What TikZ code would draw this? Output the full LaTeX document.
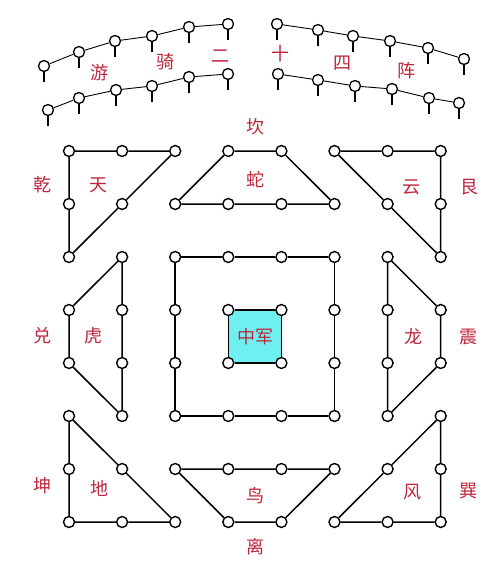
\documentclass[tikz,border=0pt]{standalone}
\usepackage{fontspec}
\newfontfamily\cjk{Noto Sans CJK SC}
\definecolor{labred}{RGB}{190,36,58}
\definecolor{cyanfill}{RGB}{110,240,240}
\begin{document}
\begin{tikzpicture}[x=1pt,y=-1pt,
  dot/.style={circle,draw,fill=white,line width=1.4pt,inner sep=0pt,minimum size=11pt},
  pin/.style={circle,draw,fill=white,line width=1.3pt,inner sep=0pt,minimum size=11pt},
  edge/.style={line width=1.5pt},
  pinline/.style={line width=0.9pt},
  tail/.style={line width=1.4pt},
  lab/.style={text=labred,font=\cjk\fontsize{18}{18}\selectfont,inner sep=0pt}]
\useasboundingbox (0,0) rectangle (500,573);
% central square fill
\fill[cyanfill] (228.3,310) rectangle (281.4,363);
% grid nodes
\foreach \n/\c/\r in {11/1/1,21/2/1,31/3/1,12/1/2,22/2/2,13/1/3,
  41/4/1,51/5/1,32/3/2,42/4/2,52/5/2,62/6/2,
  61/6/1,71/7/1,81/8/1,72/7/2,82/8/2,83/8/3,
  23/2/3,24/2/4,25/2/5,26/2/6,14/1/4,15/1/5,
  33/3/3,43/4/3,53/5/3,63/6/3,34/3/4,64/6/4,35/3/5,65/6/5,36/3/6,46/4/6,56/5/6,66/6/6,
  44/4/4,54/5/4,45/4/5,55/5/5,
  73/7/3,74/7/4,75/7/5,76/7/6,84/8/4,85/8/5,
  16/1/6,17/1/7,18/1/8,27/2/7,28/2/8,38/3/8,
  37/3/7,47/4/7,57/5/7,67/6/7,48/4/8,58/5/8,
  86/8/6,87/8/7,88/8/8,68/6/8,77/7/7,78/7/8}
  \node[dot] (g\n) at ({69+53.1*(\c-1)},{151+53*(\r-1)}) {};
% edges
\draw[edge] (g11)--(g21)--(g31) (g11)--(g12)--(g13) (g31)--(g22)--(g13);
\draw[edge] (g41)--(g51) (g32)--(g42)--(g52)--(g62) (g41)--(g32) (g51)--(g62);
\draw[edge] (g61)--(g71)--(g81) (g81)--(g82)--(g83) (g61)--(g72)--(g83);
\draw[edge] (g23)--(g24)--(g25)--(g26) (g14)--(g15) (g23)--(g14) (g15)--(g26);
\draw[edge] (g33)--(g43)--(g53)--(g63)--(g64)--(g65)--(g66)--(g56)--(g46)--(g36)--(g35)--(g34)--(g33);
\draw[edge] (g44)--(g54)--(g55)--(g45)--(g44);
\draw[edge] (g73)--(g74)--(g75)--(g76) (g84)--(g85) (g73)--(g84) (g85)--(g76);
\draw[edge] (g16)--(g17)--(g18) (g18)--(g28)--(g38) (g16)--(g27)--(g38);
\draw[edge] (g37)--(g47)--(g57)--(g67) (g48)--(g58) (g37)--(g48) (g67)--(g58);
\draw[edge] (g86)--(g87)--(g88) (g68)--(g78)--(g88) (g68)--(g77)--(g86);
% pins
\foreach \n/\x/\y in {a1/44/66,a2/79/52,a3/115/41,a4/152/36,a5/189/27,a6/228/24,
  b1/48/110,b2/79/98,b3/116/90,b4/152/86,b5/189/77,b6/228/74,
  c1/277/24,c2/318/30,c3/353/36,c4/390/41,c5/428/48,c6/464/59,
  d1/278/74,d2/318/80,d3/355/86,d4/392/89,d5/429/98,d6/459/103}
  {\node[pin] (\n) at (\x,\y) {};
   \coordinate (\n t) at (\x,\y+16);
   \draw[tail] (\n.south) -- (\n t);}
\foreach \r in {a,b,c,d}
  \draw[pinline] (\r1)--(\r2)--(\r3)--(\r4)--(\r5)--(\r6);
% labels
\node[lab] (l1) at (99,73) {游};
\node[lab] (l2) at (165,62) {骑};
\node[lab] (l3) at (220,56) {二};
\node[lab] (l4) at (280,54) {十};
\node[lab] (l5) at (342,63) {四};
\node[lab] (l6) at (406,71) {阵};
\node[lab] (k1) at (255,127) {坎};
\node[lab] (k2) at (43,185) {乾};
\node[lab] (k3) at (98,185) {天};
\node[lab] (k4) at (255,179) {蛇};
\node[lab] (k5) at (411,187) {云};
\node[lab] (k6) at (469,187) {艮};
\node[lab] (k7) at (43,336) {兑};
\node[lab] (k8) at (93,336) {虎};
\node[lab] (k9) at (255,337) {中军};
\node[lab] (k10) at (413,337) {龙};
\node[lab] (k11) at (468,337) {震};
\node[lab] (k12) at (43,486) {坤};
\node[lab] (k13) at (99,488) {地};
\node[lab] (k14) at (255,496) {鸟};
\node[lab] (k15) at (412,492) {风};
\node[lab] (k16) at (468,491) {巽};
\node[lab] (k17) at (255,547) {离};
\end{tikzpicture}
\end{document}
